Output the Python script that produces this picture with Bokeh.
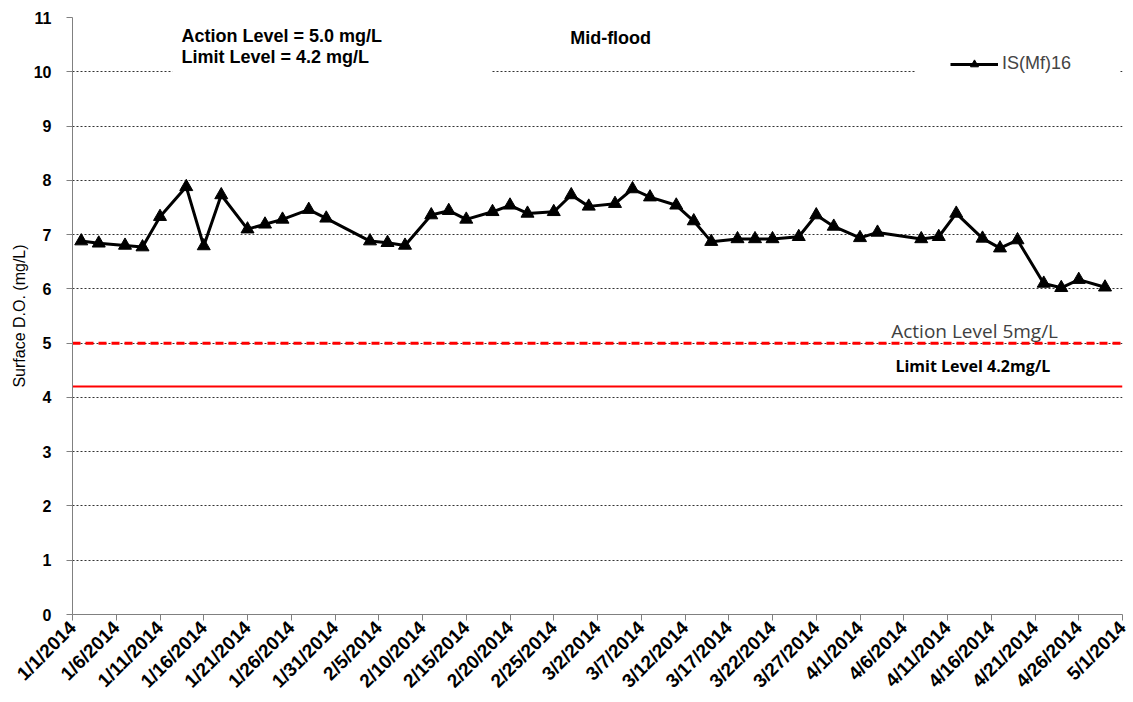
import math
import pandas as pd
from bokeh.plotting import figure
from bokeh.models import FixedTicker, BoxAnnotation, Label, Range1d
from bokeh.embed import file_html
from bokeh.resources import INLINE

# ---------------- data ----------------
sample_dates = ["2014-01-02", "2014-01-04", "2014-01-07", "2014-01-09", "2014-01-11",
                "2014-01-14", "2014-01-16", "2014-01-18", "2014-01-21", "2014-01-23",
                "2014-01-25", "2014-01-28", "2014-01-30", "2014-02-04", "2014-02-06",
                "2014-02-08", "2014-02-11", "2014-02-13", "2014-02-15", "2014-02-18",
                "2014-02-20", "2014-02-22", "2014-02-25", "2014-02-27", "2014-03-01",
                "2014-03-04", "2014-03-06", "2014-03-08", "2014-03-11", "2014-03-13",
                "2014-03-15", "2014-03-18", "2014-03-20", "2014-03-22", "2014-03-25",
                "2014-03-27", "2014-03-29", "2014-04-01", "2014-04-03", "2014-04-08",
                "2014-04-10", "2014-04-12", "2014-04-15", "2014-04-17", "2014-04-19",
                "2014-04-22", "2014-04-24", "2014-04-26", "2014-04-29"]
do_values = [6.88, 6.84, 6.80, 6.77, 7.33, 7.88, 6.79, 7.73, 7.10, 7.19,
             7.28, 7.46, 7.30, 6.88, 6.85, 6.80, 7.36, 7.44, 7.28, 7.42,
             7.54, 7.39, 7.42, 7.73, 7.52, 7.57, 7.84, 7.69, 7.54, 7.25,
             6.87, 6.92, 6.92, 6.92, 6.96, 7.36, 7.15, 6.94, 7.04, 6.92,
             6.96, 7.39, 6.93, 6.75, 6.90, 6.10, 6.02, 6.17, 6.03]
series_name = "IS(Mf)16"

tick_labels = ["1/1/2014", "1/6/2014", "1/11/2014", "1/16/2014", "1/21/2014",
               "1/26/2014", "1/31/2014", "2/5/2014", "2/10/2014", "2/15/2014",
               "2/20/2014", "2/25/2014", "3/2/2014", "3/7/2014", "3/12/2014",
               "3/17/2014", "3/22/2014", "3/27/2014", "4/1/2014", "4/6/2014",
               "4/11/2014", "4/16/2014", "4/21/2014", "4/26/2014", "5/1/2014"]
y_ticks = [0, 1, 2, 3, 4, 5, 6, 7, 8, 9, 10, 11]

action_level = 5.0
limit_level = 4.2
level_span = ["2014-01-01", "2014-05-01"]

# ---------------- helpers ----------------
origin = pd.Timestamp("2014-01-01")
def to_day(s):
    return (pd.Timestamp(s) - origin).days

xs = [to_day(d) for d in sample_dates]
tick_days = [to_day(pd.to_datetime(t, format="%m/%d/%Y")) for t in tick_labels]
span_days = [to_day(d) for d in level_span]

FONT = "Liberation Sans"

p = figure(width=1130, height=702, x_range=Range1d(tick_days[0], tick_days[-1]),
           y_range=Range1d(y_ticks[0], y_ticks[-1]),
           output_backend="svg", toolbar_location=None,
           min_border_left=72, min_border_top=17, min_border_right=8, min_border_bottom=86)
p.outline_line_color = None
p.background_fill_color = "white"

# grid
p.xgrid.visible = False
p.ygrid.ticker = FixedTicker(ticks=y_ticks)
p.ygrid.grid_line_color = "#333333"
p.ygrid.grid_line_dash = "2 2"
p.ygrid.grid_line_width = 1

# axes
p.yaxis.ticker = FixedTicker(ticks=y_ticks)
p.xaxis.ticker = FixedTicker(ticks=tick_days)
p.xaxis.major_label_overrides = {d: l for d, l in zip(tick_days, tick_labels)}
p.xaxis.major_label_orientation = math.pi / 4
for ax in (p.xaxis[0], p.yaxis[0]):
    ax.axis_line_color = "#808080"
    ax.major_tick_line_color = "#808080"
    ax.minor_tick_line_color = None
    ax.major_tick_in = 0
    ax.major_tick_out = 6
    ax.major_label_text_font = FONT
    ax.major_label_text_font_style = "bold"
    ax.major_label_text_color = "black"
p.xaxis.major_label_text_font_size = "19px"
p.yaxis.major_label_text_font_size = "16px"
p.yaxis.major_label_standoff = 15
p.xaxis.major_label_standoff = 4
p.yaxis.axis_label = "Surface D.O. (mg/L)"
p.yaxis.axis_label_text_font = FONT
p.yaxis.axis_label_text_font_style = "normal"
p.yaxis.axis_label_text_font_size = "16px"
p.yaxis.axis_label_text_color = "black"
p.yaxis.axis_label_standoff = 3

# level lines
p.line(span_days, [action_level] * 2, line_color="#ff0000", line_width=3, line_dash="8 5")
p.line(span_days, [limit_level] * 2, line_color="#ff0000", line_width=2)

# data series
p.line(xs, do_values, line_color="black", line_width=3, legend_label=series_name)
p.scatter(xs, do_values, marker="triangle", size=13, fill_color="black",
          line_color="black", legend_label=series_name)

# legend
lg = p.legend[0]
lg.location = "top_right"
lg.margin = 2
lg.padding = 34
lg.background_fill_color = "white"
lg.background_fill_alpha = 1
lg.border_line_alpha = 0
lg.glyph_width = 48
lg.label_standoff = 4
lg.label_width = 84
lg.label_text_font = FONT
lg.label_text_font_size = "18px"

# white box behind top-left annotation (breaks the gridline like the original)
p.add_layout(BoxAnnotation(left=11.4, right=47.9, bottom=9.9, top=10.8,
                           fill_color="white", fill_alpha=1, line_alpha=0))

p.add_layout(Label(x=12.46, y=10.65, text="Action Level = 5.0 mg/L", text_font=FONT,
                   text_font_style="bold", text_font_size="18px", text_baseline="middle",
                   text_align="left", text_color="black"))
p.add_layout(Label(x=12.46, y=10.27, text="Limit Level = 4.2 mg/L", text_font=FONT,
                   text_font_style="bold", text_font_size="18px", text_baseline="middle",
                   text_align="left", text_color="black"))
p.add_layout(Label(x=61.5, y=10.62, text="Mid-flood", text_font=FONT,
                   text_font_style="bold", text_font_size="18px", text_baseline="middle",
                   text_align="center", text_color="black"))
p.add_layout(Label(x=103.1, y=5.22, text="Action Level 5mg/L", text_font="Open Sans",
                   text_font_size="19px", text_baseline="middle",
                   text_align="center", text_color="#404040"))
p.add_layout(Label(x=102.9, y=4.57, text="Limit Level 4.2mg/L", text_font="Open Sans",
                   text_font_style="bold", text_font_size="16px", text_baseline="middle",
                   text_align="center", text_color="black"))

open("out.html", "w").write(file_html(p, INLINE))
